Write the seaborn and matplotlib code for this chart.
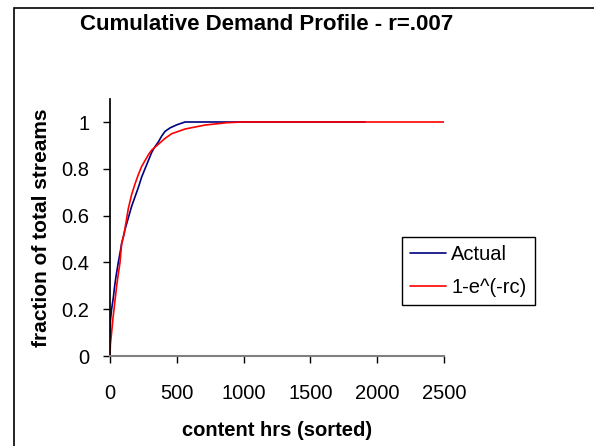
import matplotlib
matplotlib.use('Agg')
import matplotlib.pyplot as plt
from matplotlib.patches import Rectangle
import pandas as pd
import seaborn as sns

# values
actual_hrs = [0, 3, 12, 25, 35, 45, 62, 75, 87, 100, 112, 137, 162, 187, 212, 237,
              262, 287, 312, 337, 362, 387, 412, 450, 500, 562, 1910]
actual_frac = [0.03, 0.15, 0.20, 0.25, 0.30, 0.34, 0.40, 0.44, 0.48, 0.51, 0.54, 0.59,
               0.64, 0.68, 0.72, 0.765, 0.80, 0.835, 0.87, 0.895, 0.915, 0.94, 0.96,
               0.975, 0.988, 1.0, 1.0]
model_hrs = [0, 3, 12, 22, 32, 50, 62, 75, 87, 105, 137, 162, 187, 212, 237, 287,
             312, 362, 412, 462, 562, 712, 875, 1000, 2500]
model_frac = [0.0, 0.05, 0.10, 0.16, 0.21, 0.30, 0.35, 0.40, 0.48, 0.52, 0.63, 0.69,
              0.735, 0.775, 0.81, 0.86, 0.88, 0.905, 0.93, 0.95, 0.97, 0.987, 0.997,
              1.0, 1.0]
x_ticks = [0, 500, 1000, 1500, 2000, 2500]
y_ticks = [0, 0.2, 0.4, 0.6, 0.8, 1]
y_labels = ['0', '0.2', '0.4', '0.6', '0.8', '1']

sns.set_theme(style='white')
plt.rcParams['font.family'] = ['Liberation Sans', 'DejaVu Sans']
plt.rcParams.update({'text.color': 'black', 'axes.labelcolor': 'black',
                     'xtick.color': 'black', 'ytick.color': 'black'})

W, H = 594, 446
fig = plt.figure(figsize=(W / 100, H / 100), dpi=100)
ax = fig.add_axes([110 / W, 1 - 356 / H, (444 - 110) / W, (356 - 98.6) / H])

df_actual = pd.DataFrame({'hrs': actual_hrs, 'frac': actual_frac})
df_model = pd.DataFrame({'hrs': model_hrs, 'frac': model_frac})
sns.lineplot(data=df_actual, x='hrs', y='frac', color='#000080', lw=1.2,
             estimator=None, label='Actual', ax=ax)
sns.lineplot(data=df_model, x='hrs', y='frac', color='#FF0000', lw=1.2,
             estimator=None, label='1-e^(-rc)', ax=ax)

ax.set_xlim(0, 2500)
ax.set_ylim(0, 1.1)
ax.set_xticks(x_ticks)
ax.set_yticks(y_ticks)
ax.set_yticklabels(y_labels)
ax.tick_params(axis='both', labelsize=14.5, direction='out', length=5, width=1,
               color='black', labelcolor='black', left=True, bottom=True)
ax.tick_params(axis='x', pad=15)
ax.tick_params(axis='y', pad=10)
for side in ['top', 'right']:
    ax.spines[side].set_visible(False)
ax.spines['left'].set_color('black')
ax.spines['bottom'].set_color('#808080')
ax.spines['bottom'].set_linewidth(1.5)

ax.set_xlabel('content hrs (sorted)', fontsize=14.5, fontweight='bold', labelpad=13,
              color='black')
ax.set_ylabel('fraction of total streams', fontsize=15, fontweight='bold', labelpad=7,
              color='black')
fig.text(267 / W, 1 - 25 / H, 'Cumulative Demand Profile - r=.007', fontsize=16,
         fontweight='bold', ha='center', va='center', color='black')

ax.get_legend().remove()
handles, labels = ax.get_legend_handles_labels()
leg = fig.legend(handles, labels, loc='upper left', bbox_to_anchor=(402 / W, 1 - 237 / H),
                 borderaxespad=0, fancybox=False, edgecolor='black', framealpha=1,
                 fontsize=14.5, handlelength=1.8, handletextpad=0.25, borderpad=0.4,
                 labelspacing=0.7)
for t in leg.get_texts():
    t.set_color('black')

fig.add_artist(Rectangle((14 / W, -0.1), 1.2, 1.1 - 8 / H, transform=fig.transFigure,
                         fill=False, edgecolor='black', lw=1.2))

fig.savefig('out.png', dpi=100)
